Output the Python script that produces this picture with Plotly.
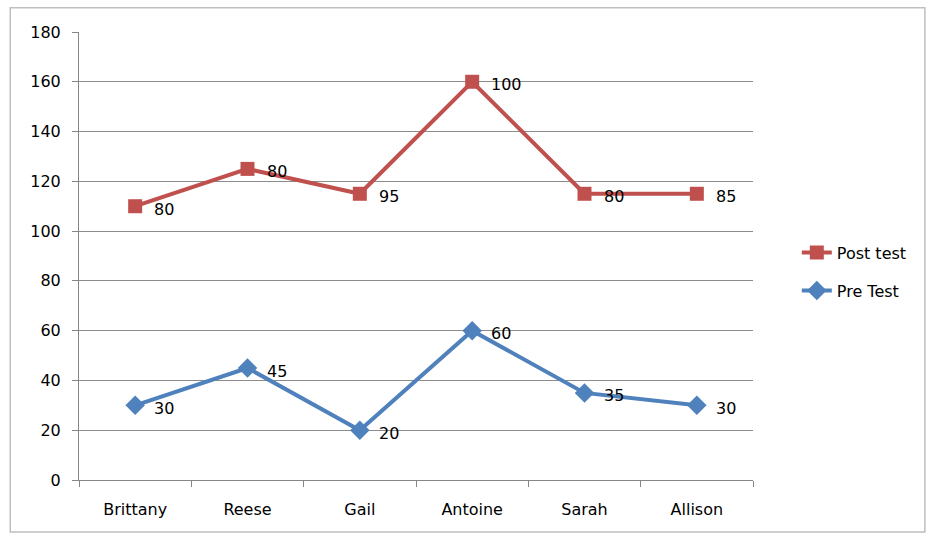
import plotly.graph_objects as go

categories = ["Brittany", "Reese", "Gail", "Antoine", "Sarah", "Allison"]
pre_test = [30, 45, 20, 60, 35, 30]
post_test = [80, 80, 95, 100, 80, 85]

# stacked line chart: post test is drawn on top of pre test
post_stacked = [a + b for a, b in zip(pre_test, post_test)]

RED = "#C0504D"
BLUE = "#4F81BD"
FONT = "DejaVu Sans"
FS = 16

fig = go.Figure()
fig.add_trace(go.Scatter(
    x=categories, y=post_stacked, name="Post test", legendgroup="post",
    mode="lines+markers",
    line=dict(color=RED, width=4),
    marker=dict(symbol="square", size=14, color=RED),
))
fig.add_trace(go.Scatter(
    x=categories, y=pre_test, name="Pre Test", legendgroup="pre",
    mode="lines+markers",
    line=dict(color=BLUE, width=4),
    marker=dict(symbol="diamond", size=15, color=BLUE),
))

annotations = []
for cat, ypos, lab in list(zip(categories, post_stacked, post_test)) + list(zip(categories, pre_test, pre_test)):
    annotations.append(dict(
        x=cat, y=ypos, text=str(lab), showarrow=False,
        xanchor="left", yanchor="middle", xshift=17, yshift=-3,
        font=dict(family=FONT, size=FS, color="#000000"),
    ))

fig.update_layout(
    width=930, height=535,
    margin=dict(l=79, r=177, t=32, b=55),
    paper_bgcolor="white", plot_bgcolor="white",
    font=dict(family=FONT, size=FS, color="#000000"),
    showlegend=True,
    legend=dict(x=1.065, y=0.465, xanchor="left", yanchor="middle",
                font=dict(family=FONT, size=FS, color="#000000"),
                tracegroupgap=14, bgcolor="rgba(0,0,0,0)"),
    xaxis=dict(type="category", range=[-0.5, 5.5], showgrid=False,
               showline=True, linecolor="#868686", linewidth=1,
               ticks="outside", tickson="boundaries", ticklen=6,
               tickcolor="#868686", tickfont=dict(family=FONT, size=FS),
               ticklabelstandoff=15, fixedrange=True),
    yaxis=dict(range=[0, 180], dtick=20, showgrid=True, gridcolor="#8C8C8C",
               gridwidth=1, showline=True, linecolor="#868686", linewidth=1,
               ticks="outside", ticklen=6, tickcolor="#868686",
               tickfont=dict(family=FONT, size=FS), zeroline=False,
               ticklabelstandoff=8, fixedrange=True),
    annotations=annotations,
    shapes=[dict(type="rect", xref="paper", yref="paper",
                 x0=-0.102, x1=1.255, y0=-0.116, y1=1.054,
                 line=dict(color="#BFBFBF", width=1.5), layer="below")],
)

fig.write_html("out.html")
